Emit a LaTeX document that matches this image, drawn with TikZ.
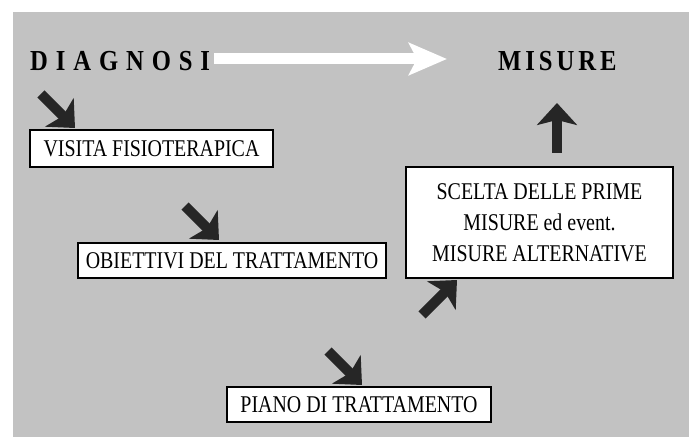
\documentclass[tikz,border=0pt]{standalone}
\usepackage{fontspec}
\setmainfont{Liberation Serif}
\usetikzlibrary{positioning, arrows.meta}

% condensed lettering
\newcommand{\cond}[1]{\scalebox{0.83}[1]{#1}}
\newcommand{\condb}[2]{\scalebox{0.85}[1]{\addfontfeature{LetterSpace=#1}#2}}

\begin{document}
\begin{tikzpicture}[
  x=1pt, y=-1pt,
  box/.style={draw, fill=white, line width=1.2pt, inner sep=0pt, align=center,
    font=\fontsize{24}{31}\selectfont},
  title/.style={inner sep=0pt, anchor=base west, font=\fontsize{29}{32}\selectfont\bfseries},
  darkarrow/.style={draw=black!85, line width=10pt, -{Stealth[length=22pt,width=40pt,inset=5pt]}},
  whitearrow/.style={draw=white, line width=11pt, -{Stealth[length=38pt,width=32pt,inset=8pt]}}
]
\useasboundingbox (0,0) rectangle (689,441);
\fill[black!24] (13,12) rectangle (689,437);

\node[title] (diagnosi) at (30,71) {\condb{32}{DIAGNOSI}};
\node[title] (misure) at (498,71) {\condb{16}{MISURE}};

\node[box, minimum width=243pt, minimum height=37pt] (visita) at (151.5,148.5) {\cond{VISITA FISIOTERAPICA}};
\node[box, minimum width=308pt, minimum height=35pt] (obiettivi) at (232,260.5) {\cond{OBIETTIVI DEL TRATTAMENTO}};
\node[box, minimum width=264pt, minimum height=35pt] (piano) at (359,404.5) {\cond{PIANO DI TRATTAMENTO}};
\node[box, minimum width=267pt, minimum height=111pt] (scelta) at (539.5,222.5)
  {\cond{SCELTA DELLE PRIME}\\\cond{MISURE ed event.}\\\cond{MISURE ALTERNATIVE}};

% arrow ends
\coordinate (w1) at (214,59);
\coordinate (w2) at (447,59);
\coordinate (a1) at (41,94);
\coordinate (b1) at (75,128);
\coordinate (a2) at (185,206);
\coordinate (b2) at (219,240);
\coordinate (a3) at (328,351);
\coordinate (b3) at (362,385);
\coordinate (a4) at (422,315);
\coordinate (b4) at (457,280);
\coordinate (a5) at (557,153);
\coordinate (b5) at (557,103);

\draw[whitearrow] (w1) -- (w2);
\draw[darkarrow] (a1) -- (b1);
\draw[darkarrow] (a2) -- (b2);
\draw[darkarrow] (a3) -- (b3);
\draw[darkarrow] (a4) -- (b4);
\draw[darkarrow] (a5) -- (b5);

\end{tikzpicture}
\end{document}
